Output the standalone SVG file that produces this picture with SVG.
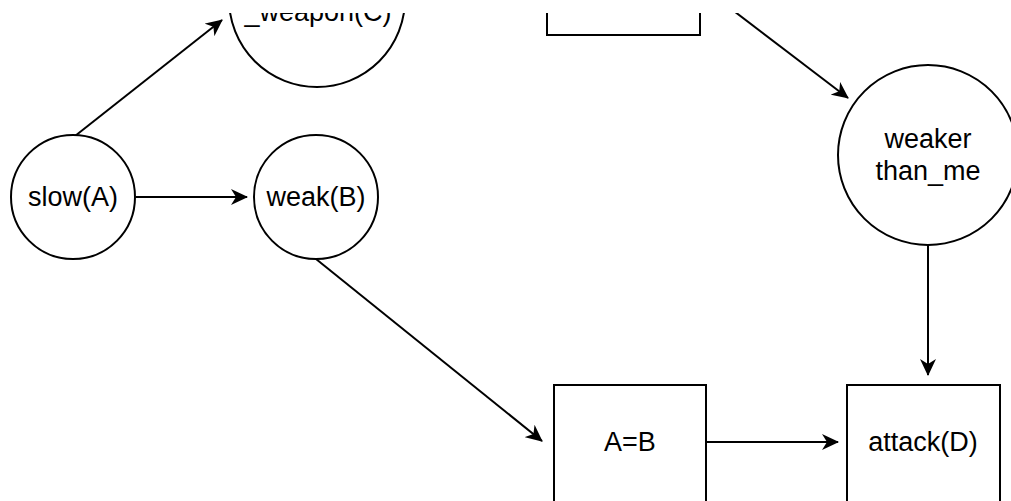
<svg xmlns="http://www.w3.org/2000/svg" width="1011" height="501" viewBox="0 0 1011 501">
  <style>
    .shape { fill: #ffffff; stroke: #000000; stroke-width: 2; }
    .label { font-family: "Liberation Sans", Arial, Helvetica, sans-serif; font-size: 27px; fill: #000000; text-anchor: middle; }
    .edge { fill: none; stroke: #000000; stroke-width: 2; marker-end: url(#arrow); }
  </style>
  <defs>
    <marker id="arrow" markerUnits="userSpaceOnUse" viewBox="0 0 17 16" markerWidth="17" markerHeight="16" refX="16" refY="8" orient="auto">
      <path d="M0,0 L17,8 L0,16 L5,8 Z" fill="#000000" stroke="none"/>
    </marker>
    <clipPath id="view">
      <rect x="0" y="13" width="1011" height="488"/>
    </clipPath>
  </defs>
  <rect x="0" y="0" width="1011" height="501" fill="#ffffff"/>
  <g clip-path="url(#view)">
    <g id="connectors">
      <line class="edge" x1="136" y1="197" x2="247" y2="197"/>
      <line class="edge" x1="75" y1="136" x2="222" y2="20"/>
      <line class="edge" x1="705" y1="-11" x2="848" y2="98"/>
      <line class="edge" x1="316" y1="259" x2="542" y2="441"/>
      <line class="edge" x1="707" y1="442" x2="838" y2="442"/>
      <line class="edge" x1="928" y1="245" x2="928" y2="375"/>
    </g>
    <g id="node-c">
      <circle class="shape" cx="317" cy="-1" r="88"/>
      <text class="label" x="318" y="21">_weapon(C)</text>
    </g>
    <g id="node-top-rect">
      <rect class="shape" x="547" y="-118" width="153" height="153"/>
    </g>
    <g id="node-slow">
      <circle class="shape" cx="73" cy="197" r="62"/>
      <text class="label" x="73" y="206">slow(A)</text>
    </g>
    <g id="node-weak">
      <circle class="shape" cx="316" cy="197" r="62"/>
      <text class="label" x="316" y="206">weak(B)</text>
    </g>
    <g id="node-weaker">
      <circle class="shape" cx="928" cy="155" r="90"/>
      <text class="label" x="928" y="148">weaker</text>
      <text class="label" x="928" y="180">than_me</text>
    </g>
    <g id="node-equal">
      <rect class="shape" x="554" y="385" width="152" height="153"/>
      <text class="label" x="630" y="451">A=B</text>
    </g>
    <g id="node-attack">
      <rect class="shape" x="847" y="385" width="153" height="153"/>
      <text class="label" x="923" y="451">attack(D)</text>
    </g>
  </g>
</svg>
